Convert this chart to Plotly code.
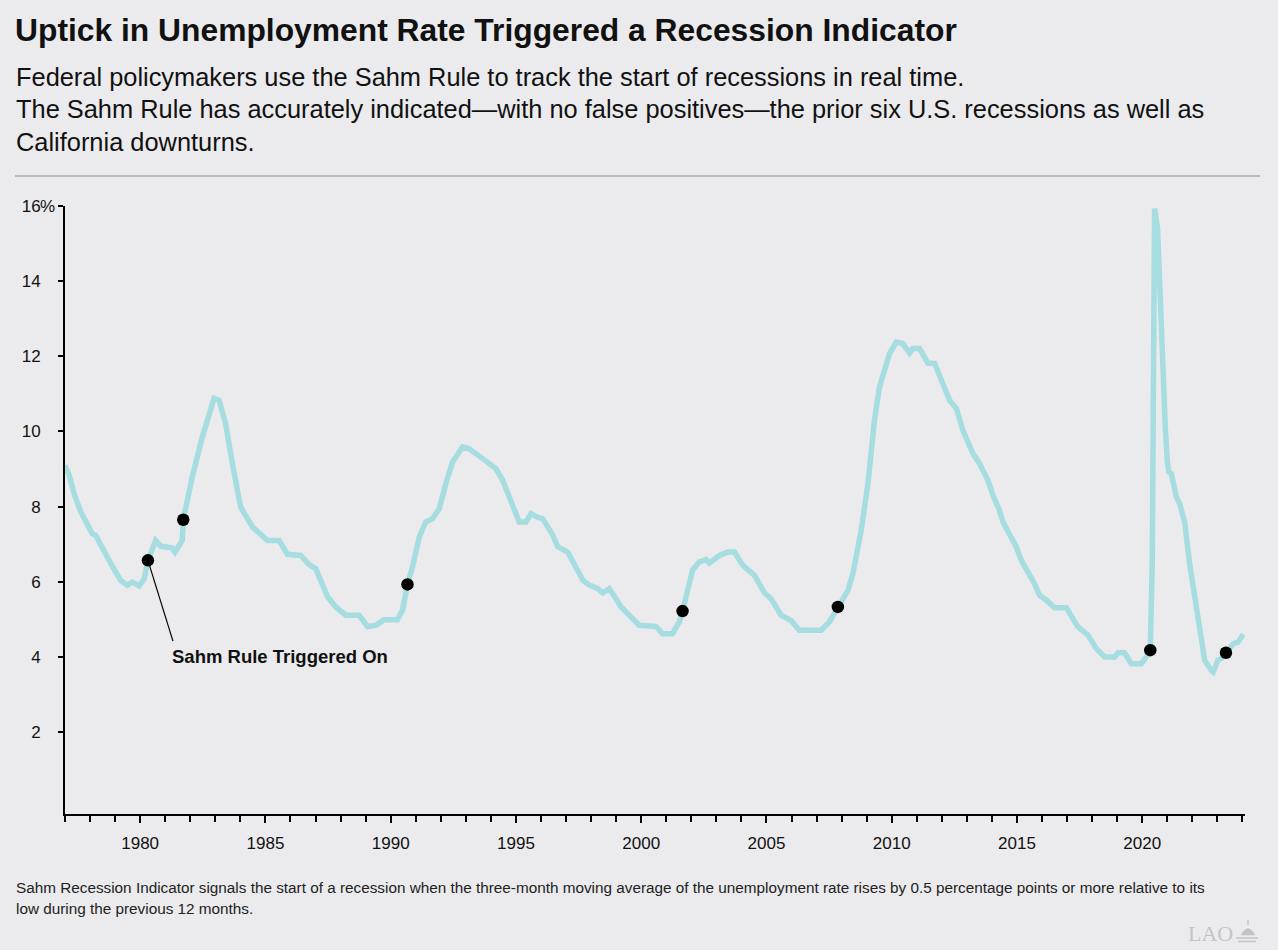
import plotly.graph_objects as go

# ---- data ----
years = [
    1977.00, 1977.16, 1977.36, 1977.63, 1978.09, 1978.22, 1978.76, 1979.22, 1979.49, 1979.69,
    1979.96, 1980.16, 1980.31, 1980.62, 1980.82, 1981.28, 1981.39, 1981.55, 1981.68, 1981.72,
    1982.08, 1982.48, 1982.95, 1983.15, 1983.41, 1983.68, 1984.01, 1984.48, 1984.88, 1985.08,
    1985.55, 1985.88, 1986.41, 1986.74, 1987.01, 1987.28, 1987.48, 1987.81, 1988.21, 1988.74,
    1989.07, 1989.41, 1989.74, 1990.27, 1990.47, 1990.67, 1990.87, 1991.14, 1991.40, 1991.67,
    1991.94, 1992.20, 1992.47, 1992.87, 1993.13, 1993.40, 1993.93, 1994.20, 1994.47, 1994.80,
    1995.13, 1995.40, 1995.60, 1995.87, 1996.07, 1996.47, 1996.67, 1997.07, 1997.67, 1997.93,
    1998.27, 1998.47, 1998.73, 1999.20, 1999.53, 1999.92, 2000.59, 2000.85, 2001.25, 2001.52,
    2001.65, 2001.85, 2002.05, 2002.32, 2002.59, 2002.72, 2003.12, 2003.45, 2003.72, 2004.05,
    2004.52, 2004.92, 2005.18, 2005.58, 2005.98, 2006.31, 2007.18, 2007.51, 2007.85, 2008.25,
    2008.45, 2008.78, 2009.05, 2009.31, 2009.51, 2009.71, 2009.91, 2010.18, 2010.44, 2010.71,
    2010.84, 2011.11, 2011.44, 2011.71, 2011.98, 2012.31, 2012.58, 2012.84, 2013.24, 2013.50,
    2013.84, 2014.04, 2014.30, 2014.44, 2014.97, 2015.17, 2015.70, 2015.90, 2016.17, 2016.50,
    2016.97, 2017.17, 2017.43, 2017.83, 2018.17, 2018.50, 2018.90, 2019.03, 2019.29, 2019.56,
    2019.96, 2020.16, 2020.32, 2020.40, 2020.49, 2020.61, 2020.72, 2020.76, 2020.92, 2021.00,
    2021.06, 2021.16, 2021.36, 2021.49, 2021.69, 2021.89, 2022.09, 2022.36, 2022.49, 2022.76,
    2022.83, 2023.02, 2023.16, 2023.34, 2023.63, 2023.83, 2024.03,
]
rate = [
    9.10, 8.85, 8.35, 7.86, 7.28, 7.24, 6.57, 6.04, 5.91, 5.99,
    5.89, 6.08, 6.57, 7.10, 6.95, 6.90, 6.79, 6.93, 7.10, 7.65,
    8.79, 9.85, 10.88, 10.83, 10.21, 9.15, 7.99, 7.46, 7.24, 7.10,
    7.10, 6.73, 6.70, 6.46, 6.35, 5.95, 5.60, 5.33, 5.11, 5.11,
    4.81, 4.84, 4.99, 4.99, 5.24, 5.93, 6.39, 7.19, 7.59, 7.68,
    7.95, 8.61, 9.19, 9.59, 9.54, 9.41, 9.15, 9.01, 8.70, 8.17,
    7.59, 7.59, 7.81, 7.71, 7.68, 7.24, 6.93, 6.79, 6.04, 5.91,
    5.82, 5.70, 5.82, 5.33, 5.11, 4.84, 4.81, 4.62, 4.62, 4.93,
    5.22, 5.77, 6.31, 6.53, 6.59, 6.50, 6.70, 6.79, 6.79, 6.44,
    6.17, 5.71, 5.55, 5.11, 4.97, 4.71, 4.71, 4.93, 5.33, 5.77,
    6.22, 7.37, 8.61, 10.30, 11.18, 11.63, 12.07, 12.38, 12.34, 12.09,
    12.21, 12.21, 11.82, 11.81, 11.36, 10.83, 10.61, 10.03, 9.41, 9.15,
    8.70, 8.30, 7.90, 7.59, 6.93, 6.57, 5.95, 5.64, 5.51, 5.31,
    5.31, 5.11, 4.80, 4.58, 4.22, 4.00, 4.00, 4.11, 4.11, 3.82,
    3.82, 4.00, 4.18, 6.60, 15.93, 15.40, 13.30, 13.00, 10.08, 9.20,
    8.92, 8.88, 8.26, 8.08, 7.59, 6.48, 5.60, 4.53, 3.91, 3.64,
    3.60, 3.91, 3.96, 4.11, 4.35, 4.40, 4.60,
]
trigger_years = [1980.31, 1981.72, 1990.67, 2001.65, 2007.85, 2020.32, 2023.34]
trigger_rates = [6.57, 7.65, 5.93, 5.22, 5.33, 4.18, 4.11]

y_tickvals = [2, 4, 6, 8, 10, 12, 14, 16]
y_ticktext = ["2", "4", "6", "8", "10", "12", "14", "16"]
x_tickvals = [1980, 1985, 1990, 1995, 2000, 2005, 2010, 2015, 2020]

title = "Uptick in Unemployment Rate Triggered a Recession Indicator"
subtitle_lines = [
    "Federal policymakers use the Sahm Rule to track the start of recessions in real time.",
    "The Sahm Rule has accurately indicated\u2014with no false positives\u2014the prior six U.S. recessions as well as",
    "California downturns.",
]
footnote_lines = [
    "Sahm Recession Indicator signals the start of a recession when the three-month moving average of the unemployment rate rises by 0.5 percentage points or more relative to its",
    "low during the previous 12 months.",
]
callout = "Sahm Rule Triggered On"

# ---- layout geometry (page adds an 8px body margin, so work in shifted pixels) ----
OFF = 8
W, H = 1278 - OFF, 950 - OFF
L, R, T, B = 65 - OFF, 1245 - OFF, 206 - OFF, 814 - OFF
FONT = "Liberation Sans, Arial, Helvetica, sans-serif"
BG = "#ebebed"
LINE_COLOR = "#a6dde0"
LOGO = "#c4c4c6"


def px(x):
    """reference-pixel x -> paper coordinate"""
    return (x - OFF - L) / (R - L)


def py(y):
    """reference-pixel y -> paper coordinate"""
    return (B - (y - OFF)) / (B - T)


fig = go.Figure()
fig.add_trace(go.Scatter(
    x=years, y=rate, mode="lines",
    line=dict(color=LINE_COLOR, width=5.5),
    hoverinfo="skip", showlegend=False,
))
fig.add_trace(go.Scatter(
    x=trigger_years, y=trigger_rates, mode="markers",
    marker=dict(color="black", size=12.5, line=dict(width=0)),
    hoverinfo="skip", showlegend=False,
))

annotations = []
for i, line in enumerate(subtitle_lines):
    annotations.append(dict(
        text=line, x=px(14), y=py([77, 109.5, 142][i]), xref="paper", yref="paper",
        xanchor="left", yanchor="middle", showarrow=False,
        font=dict(family=FONT, size=25.4, color="#111111"),
    ))
for i, line in enumerate(footnote_lines):
    annotations.append(dict(
        text=line, x=px(14), y=py([887, 908][i]), xref="paper", yref="paper",
        xanchor="left", yanchor="middle", showarrow=False,
        font=dict(family=FONT, size=15.3, color="#222222"),
    ))
# percent sign hanging after the top y tick label
annotations.append(dict(
    text="%", x=px(38), y=16, xref="paper", yref="y",
    xanchor="left", yanchor="middle", showarrow=False,
    font=dict(family=FONT, size=17, color="#111111"),
))
# callout label
annotations.append(dict(
    text="<b>" + callout + "</b>", x=trigger_years[0] + 0.9, y=trigger_rates[0] - 2.55,
    xref="x", yref="y", xanchor="left", yanchor="middle", showarrow=False,
    font=dict(family=FONT, size=18.5, color="#111111"),
))
# LAO logo text
annotations.append(dict(
    text="LAO", x=px(1186), y=py(933), xref="paper", yref="paper",
    xanchor="left", yanchor="middle", showarrow=False,
    font=dict(family="Liberation Serif, DejaVu Serif, serif", size=22, color=LOGO),
))

# small capitol-dome emblem beside the LAO text (paper coordinates)
dome = "M {a},{b} Q {c},{d} {e},{b} Z".format(
    a=px(1241), b=py(935), c=px(1248), d=py(922), e=px(1255))
shapes = [
    # rule under subtitle
    dict(type="line", xref="paper", yref="paper", x0=px(15), x1=px(1260), y0=py(176), y1=py(176),
         line=dict(color="#8a8a8a", width=1)),
    # leader line for callout
    dict(type="line", xref="x", yref="y",
         x0=trigger_years[0], y0=trigger_rates[0],
         x1=trigger_years[0] + 1.0, y1=trigger_rates[0] - 2.15,
         line=dict(color="black", width=1.2)),
    dict(type="path", xref="paper", yref="paper", path=dome,
         fillcolor=LOGO, line=dict(color=LOGO, width=0.5)),
    dict(type="line", xref="paper", yref="paper", x0=px(1248), x1=px(1248), y0=py(925), y1=py(920),
         line=dict(color=LOGO, width=1.5)),
    dict(type="line", xref="paper", yref="paper", x0=px(1236), x1=px(1258), y0=py(938), y1=py(938),
         line=dict(color=LOGO, width=1.5)),
    dict(type="line", xref="paper", yref="paper", x0=px(1238), x1=px(1256), y0=py(941.5), y1=py(941.5),
         line=dict(color=LOGO, width=1.5)),
]

fig.update_layout(
    width=W, height=H,
    margin=dict(l=L, r=W - R, t=T, b=H - B, pad=0),
    paper_bgcolor=BG, plot_bgcolor=BG,
    title=dict(text="<b>" + title + "</b>", x=(15 - OFF) / W, xref="container", xanchor="left",
               y=1 - (30 - OFF) / H, yref="container", yanchor="middle",
               font=dict(family=FONT, size=31.8, color="#111111")),
    font=dict(family=FONT, size=17, color="#111111"),
    annotations=annotations, shapes=shapes,
    showlegend=False,
)
fig.update_xaxes(
    range=[1977, 2024.1], showgrid=False, zeroline=False,
    showline=True, linecolor="black", linewidth=2,
    tickmode="array", tickvals=x_tickvals, ticks="outside", ticklen=7, tickwidth=1.5,
    tickcolor="black", ticklabelstandoff=6,
    tickfont=dict(family=FONT, size=17, color="#111111"),
    minor=dict(dtick=1, tick0=1977, ticks="outside", ticklen=6, tickwidth=1.5, tickcolor="black"),
)
fig.update_yaxes(
    range=[-0.18, 16], showgrid=False, zeroline=False,
    showline=True, linecolor="black", linewidth=2,
    tickmode="array", tickvals=y_tickvals, ticktext=y_ticktext,
    ticks="outside", ticklen=5, tickwidth=1.5, tickcolor="black",
    ticklabelstandoff=14,
    tickfont=dict(family=FONT, size=17, color="#111111"),
)

fig.write_html(
    "out.html",
    post_script=(
        "document.body.style.backgroundColor='%s';"
        "document.documentElement.style.backgroundColor='%s';" % (BG, BG)
    ),
)
